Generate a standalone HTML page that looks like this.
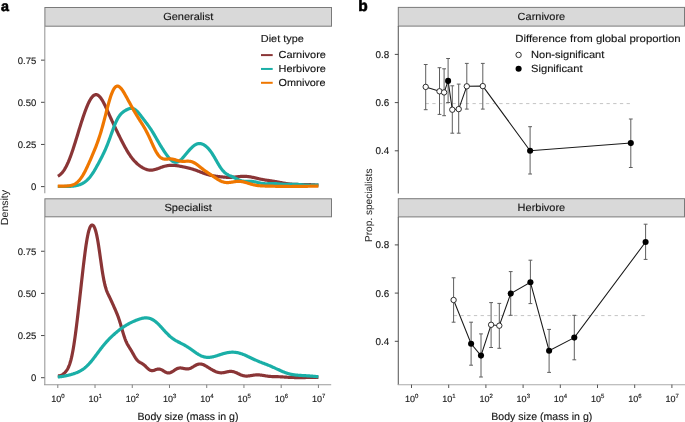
<!DOCTYPE html>
<html><head><meta charset="utf-8"><style>
html,body{margin:0;padding:0;background:#fff;width:685px;height:422px;overflow:hidden;font-family:"Liberation Sans",sans-serif;}
svg{display:block;will-change:transform;text-rendering:geometricPrecision} text{stroke:#1a1a1a;stroke-width:0.15px}
</style></head><body><svg width="685" height="422" viewBox="0 0 685 422"><rect width="685" height="422" fill="#fff"/>
<text x="0.9" y="10.9" font-size="14.3" font-weight="bold" font-family="Liberation Sans, sans-serif" fill="#000" style="stroke:#000;stroke-width:0.6px">a</text>
<text x="358.2" y="11" font-size="15.5" font-weight="bold" font-family="Liberation Sans, sans-serif" fill="#000" style="stroke:#000;stroke-width:0.6px">b</text>
<rect x="44.9" y="7.5" width="286.6" height="18.7" fill="#d9d9d9" stroke="#7a7a7a" stroke-width="1.0"/>
<text x="188.2" y="20.10" text-anchor="middle" font-size="10.4" font-family="Liberation Sans, sans-serif" fill="#151515" textLength="50" lengthAdjust="spacingAndGlyphs">Generalist</text>
<rect x="44.9" y="198.8" width="286.6" height="18.0" fill="#d9d9d9" stroke="#7a7a7a" stroke-width="1.0"/>
<text x="188.2" y="211.40" text-anchor="middle" font-size="10.4" font-family="Liberation Sans, sans-serif" fill="#151515" textLength="47.5" lengthAdjust="spacingAndGlyphs">Specialist</text>
<line x1="44.8" y1="26.2" x2="44.8" y2="193.3" stroke="#9a9a9a" stroke-width="1.1"/>
<line x1="44.8" y1="216.8" x2="44.8" y2="385" stroke="#9a9a9a" stroke-width="1.1"/>
<line x1="44" y1="384.7" x2="331.2" y2="384.7" stroke="#9a9a9a" stroke-width="1.1"/>
<line x1="41" y1="186.60" x2="44.5" y2="186.60" stroke="#2a2a2a" stroke-width="0.85"/>
<text x="36.3" y="190.00" text-anchor="end" font-size="9.5" font-family="Liberation Sans, sans-serif" fill="#222">0</text>
<line x1="41" y1="377.70" x2="44.5" y2="377.70" stroke="#2a2a2a" stroke-width="0.85"/>
<text x="36.3" y="381.10" text-anchor="end" font-size="9.5" font-family="Liberation Sans, sans-serif" fill="#222">0</text>
<line x1="41" y1="144.45" x2="44.5" y2="144.45" stroke="#2a2a2a" stroke-width="0.85"/>
<text x="36.3" y="147.85" text-anchor="end" font-size="9.5" font-family="Liberation Sans, sans-serif" fill="#222">0.25</text>
<line x1="41" y1="335.55" x2="44.5" y2="335.55" stroke="#2a2a2a" stroke-width="0.85"/>
<text x="36.3" y="338.95" text-anchor="end" font-size="9.5" font-family="Liberation Sans, sans-serif" fill="#222">0.25</text>
<line x1="41" y1="102.30" x2="44.5" y2="102.30" stroke="#2a2a2a" stroke-width="0.85"/>
<text x="36.3" y="105.70" text-anchor="end" font-size="9.5" font-family="Liberation Sans, sans-serif" fill="#222">0.50</text>
<line x1="41" y1="293.40" x2="44.5" y2="293.40" stroke="#2a2a2a" stroke-width="0.85"/>
<text x="36.3" y="296.80" text-anchor="end" font-size="9.5" font-family="Liberation Sans, sans-serif" fill="#222">0.50</text>
<line x1="41" y1="60.15" x2="44.5" y2="60.15" stroke="#2a2a2a" stroke-width="0.85"/>
<text x="36.3" y="63.55" text-anchor="end" font-size="9.5" font-family="Liberation Sans, sans-serif" fill="#222">0.75</text>
<line x1="41" y1="251.25" x2="44.5" y2="251.25" stroke="#2a2a2a" stroke-width="0.85"/>
<text x="36.3" y="254.65" text-anchor="end" font-size="9.5" font-family="Liberation Sans, sans-serif" fill="#222">0.75</text>
<line x1="57.80" y1="384.7" x2="57.80" y2="388" stroke="#808080" stroke-width="1"/>
<text x="58.00" y="402.3" text-anchor="middle" font-family="Liberation Sans, sans-serif" fill="#222"><tspan font-size="9">10</tspan><tspan font-size="6" dy="-4">0</tspan></text>
<line x1="95.03" y1="384.7" x2="95.03" y2="388" stroke="#808080" stroke-width="1"/>
<text x="95.23" y="402.3" text-anchor="middle" font-family="Liberation Sans, sans-serif" fill="#222"><tspan font-size="9">10</tspan><tspan font-size="6" dy="-4">1</tspan></text>
<line x1="132.26" y1="384.7" x2="132.26" y2="388" stroke="#808080" stroke-width="1"/>
<text x="132.46" y="402.3" text-anchor="middle" font-family="Liberation Sans, sans-serif" fill="#222"><tspan font-size="9">10</tspan><tspan font-size="6" dy="-4">2</tspan></text>
<line x1="169.49" y1="384.7" x2="169.49" y2="388" stroke="#808080" stroke-width="1"/>
<text x="169.69" y="402.3" text-anchor="middle" font-family="Liberation Sans, sans-serif" fill="#222"><tspan font-size="9">10</tspan><tspan font-size="6" dy="-4">3</tspan></text>
<line x1="206.72" y1="384.7" x2="206.72" y2="388" stroke="#808080" stroke-width="1"/>
<text x="206.92" y="402.3" text-anchor="middle" font-family="Liberation Sans, sans-serif" fill="#222"><tspan font-size="9">10</tspan><tspan font-size="6" dy="-4">4</tspan></text>
<line x1="243.95" y1="384.7" x2="243.95" y2="388" stroke="#808080" stroke-width="1"/>
<text x="244.15" y="402.3" text-anchor="middle" font-family="Liberation Sans, sans-serif" fill="#222"><tspan font-size="9">10</tspan><tspan font-size="6" dy="-4">5</tspan></text>
<line x1="281.18" y1="384.7" x2="281.18" y2="388" stroke="#808080" stroke-width="1"/>
<text x="281.38" y="402.3" text-anchor="middle" font-family="Liberation Sans, sans-serif" fill="#222"><tspan font-size="9">10</tspan><tspan font-size="6" dy="-4">6</tspan></text>
<line x1="318.41" y1="384.7" x2="318.41" y2="388" stroke="#808080" stroke-width="1"/>
<text x="318.61" y="402.3" text-anchor="middle" font-family="Liberation Sans, sans-serif" fill="#222"><tspan font-size="9">10</tspan><tspan font-size="6" dy="-4">7</tspan></text>
<text x="188" y="419.5" text-anchor="middle" font-size="10.5" font-family="Liberation Sans, sans-serif" fill="#151515" textLength="101" lengthAdjust="spacingAndGlyphs">Body size (mass in g)</text>
<text transform="translate(7.8,207.5) rotate(-90)" text-anchor="middle" font-size="10.3" font-family="Liberation Sans, sans-serif" fill="#2a2a2a" style="stroke-width:0.05px" textLength="35" lengthAdjust="spacingAndGlyphs">Density</text>
<path d="M57.80,176.20 L58.32,175.91 L58.84,175.59 L59.37,175.23 L59.89,174.83 L60.41,174.40 L60.93,173.92 L61.46,173.41 L61.98,172.84 L62.50,172.23 L63.02,171.57 L63.54,170.86 L64.07,170.10 L64.59,169.29 L65.11,168.42 L65.63,167.50 L66.16,166.53 L66.68,165.50 L67.20,164.42 L67.72,163.29 L68.25,162.11 L68.77,160.88 L69.29,159.60 L69.81,158.27 L70.33,156.90 L70.86,155.48 L71.38,154.03 L71.90,152.54 L72.42,151.01 L72.95,149.45 L73.47,147.86 L73.99,146.24 L74.51,144.61 L75.03,142.95 L75.56,141.27 L76.08,139.58 L76.60,137.88 L77.12,136.18 L77.65,134.47 L78.17,132.76 L78.69,131.05 L79.21,129.34 L79.74,127.64 L80.26,125.96 L80.78,124.29 L81.30,122.63 L81.82,121.00 L82.35,119.39 L82.87,117.80 L83.39,116.24 L83.91,114.71 L84.44,113.22 L84.96,111.76 L85.48,110.34 L86.00,108.96 L86.52,107.63 L87.05,106.35 L87.57,105.12 L88.09,103.94 L88.61,102.82 L89.14,101.76 L89.66,100.76 L90.18,99.83 L90.70,98.97 L91.22,98.18 L91.75,97.46 L92.27,96.83 L92.79,96.27 L93.31,95.79 L93.84,95.39 L94.36,95.07 L94.88,94.85 L95.40,94.70 L95.93,94.64 L96.45,94.67 L96.97,94.78 L97.49,94.98 L98.01,95.26 L98.54,95.62 L99.06,96.06 L99.58,96.57 L100.10,97.15 L100.63,97.81 L101.15,98.53 L101.67,99.31 L102.19,100.14 L102.71,101.03 L103.24,101.97 L103.76,102.95 L104.28,103.96 L104.80,105.02 L105.33,106.10 L105.85,107.20 L106.37,108.32 L106.89,109.46 L107.42,110.62 L107.94,111.78 L108.46,112.95 L108.98,114.11 L109.50,115.28 L110.03,116.45 L110.55,117.61 L111.07,118.77 L111.59,119.92 L112.12,121.06 L112.64,122.20 L113.16,123.32 L113.68,124.44 L114.20,125.55 L114.73,126.65 L115.25,127.74 L115.77,128.83 L116.29,129.91 L116.82,130.99 L117.34,132.06 L117.86,133.12 L118.38,134.18 L118.90,135.24 L119.43,136.29 L119.95,137.34 L120.47,138.38 L120.99,139.41 L121.52,140.44 L122.04,141.47 L122.56,142.48 L123.08,143.49 L123.61,144.49 L124.13,145.47 L124.65,146.45 L125.17,147.40 L125.69,148.35 L126.22,149.28 L126.74,150.18 L127.26,151.07 L127.78,151.94 L128.31,152.79 L128.83,153.62 L129.35,154.42 L129.87,155.20 L130.39,155.96 L130.92,156.69 L131.44,157.40 L131.96,158.08 L132.48,158.74 L133.01,159.38 L133.53,159.99 L134.05,160.59 L134.57,161.16 L135.10,161.70 L135.62,162.23 L136.14,162.74 L136.66,163.23 L137.18,163.71 L137.71,164.16 L138.23,164.60 L138.75,165.03 L139.27,165.43 L139.80,165.83 L140.32,166.20 L140.84,166.57 L141.36,166.91 L141.88,167.24 L142.41,167.56 L142.93,167.86 L143.45,168.14 L143.97,168.41 L144.50,168.66 L145.02,168.89 L145.54,169.10 L146.06,169.30 L146.58,169.47 L147.11,169.63 L147.63,169.76 L148.15,169.88 L148.67,169.97 L149.20,170.04 L149.72,170.09 L150.24,170.12 L150.76,170.13 L151.29,170.12 L151.81,170.09 L152.33,170.04 L152.85,169.97 L153.37,169.88 L153.90,169.78 L154.42,169.66 L154.94,169.53 L155.46,169.38 L155.99,169.23 L156.51,169.06 L157.03,168.88 L157.55,168.70 L158.07,168.52 L158.60,168.32 L159.12,168.13 L159.64,167.93 L160.16,167.74 L160.69,167.55 L161.21,167.36 L161.73,167.17 L162.25,166.99 L162.78,166.81 L163.30,166.65 L163.82,166.49 L164.34,166.33 L164.86,166.19 L165.39,166.06 L165.91,165.94 L166.43,165.83 L166.95,165.72 L167.48,165.63 L168.00,165.56 L168.52,165.49 L169.04,165.43 L169.56,165.38 L170.09,165.35 L170.61,165.32 L171.13,165.31 L171.65,165.30 L172.18,165.31 L172.70,165.32 L173.22,165.35 L173.74,165.38 L174.26,165.42 L174.79,165.46 L175.31,165.52 L175.83,165.58 L176.35,165.64 L176.88,165.71 L177.40,165.79 L177.92,165.87 L178.44,165.95 L178.97,166.04 L179.49,166.13 L180.01,166.23 L180.53,166.32 L181.05,166.42 L181.58,166.52 L182.10,166.63 L182.62,166.73 L183.14,166.84 L183.67,166.95 L184.19,167.05 L184.71,167.17 L185.23,167.28 L185.75,167.39 L186.28,167.51 L186.80,167.63 L187.32,167.75 L187.84,167.87 L188.37,168.00 L188.89,168.12 L189.41,168.26 L189.93,168.39 L190.46,168.53 L190.98,168.68 L191.50,168.83 L192.02,168.98 L192.54,169.14 L193.07,169.30 L193.59,169.46 L194.11,169.64 L194.63,169.81 L195.16,169.99 L195.68,170.18 L196.20,170.37 L196.72,170.56 L197.24,170.76 L197.77,170.96 L198.29,171.16 L198.81,171.36 L199.33,171.57 L199.86,171.77 L200.38,171.98 L200.90,172.18 L201.42,172.39 L201.95,172.59 L202.47,172.79 L202.99,172.99 L203.51,173.18 L204.03,173.37 L204.56,173.55 L205.08,173.73 L205.60,173.91 L206.12,174.08 L206.65,174.24 L207.17,174.40 L207.69,174.55 L208.21,174.69 L208.73,174.83 L209.26,174.96 L209.78,175.08 L210.30,175.20 L210.82,175.32 L211.35,175.43 L211.87,175.53 L212.39,175.63 L212.91,175.72 L213.43,175.81 L213.96,175.90 L214.48,175.98 L215.00,176.06 L215.52,176.13 L216.05,176.21 L216.57,176.28 L217.09,176.35 L217.61,176.42 L218.14,176.48 L218.66,176.55 L219.18,176.61 L219.70,176.67 L220.22,176.74 L220.75,176.79 L221.27,176.85 L221.79,176.91 L222.31,176.96 L222.84,177.01 L223.36,177.06 L223.88,177.11 L224.40,177.15 L224.92,177.19 L225.45,177.23 L225.97,177.26 L226.49,177.29 L227.01,177.31 L227.54,177.33 L228.06,177.34 L228.58,177.35 L229.10,177.35 L229.63,177.35 L230.15,177.34 L230.67,177.33 L231.19,177.31 L231.71,177.28 L232.24,177.25 L232.76,177.22 L233.28,177.18 L233.80,177.13 L234.33,177.09 L234.85,177.04 L235.37,176.98 L235.89,176.93 L236.41,176.87 L236.94,176.82 L237.46,176.76 L237.98,176.70 L238.50,176.65 L239.03,176.60 L239.55,176.55 L240.07,176.50 L240.59,176.46 L241.11,176.42 L241.64,176.39 L242.16,176.36 L242.68,176.34 L243.20,176.33 L243.73,176.32 L244.25,176.32 L244.77,176.33 L245.29,176.35 L245.82,176.37 L246.34,176.40 L246.86,176.44 L247.38,176.49 L247.90,176.54 L248.43,176.60 L248.95,176.67 L249.47,176.75 L249.99,176.83 L250.52,176.92 L251.04,177.02 L251.56,177.12 L252.08,177.22 L252.60,177.33 L253.13,177.44 L253.65,177.55 L254.17,177.67 L254.69,177.79 L255.22,177.91 L255.74,178.03 L256.26,178.16 L256.78,178.28 L257.31,178.40 L257.83,178.52 L258.35,178.64 L258.87,178.75 L259.39,178.87 L259.92,178.98 L260.44,179.09 L260.96,179.20 L261.48,179.30 L262.01,179.41 L262.53,179.51 L263.05,179.60 L263.57,179.70 L264.09,179.79 L264.62,179.88 L265.14,179.96 L265.66,180.05 L266.18,180.13 L266.71,180.21 L267.23,180.29 L267.75,180.37 L268.27,180.45 L268.79,180.52 L269.32,180.60 L269.84,180.68 L270.36,180.75 L270.88,180.83 L271.41,180.91 L271.93,180.99 L272.45,181.07 L272.97,181.16 L273.50,181.24 L274.02,181.33 L274.54,181.41 L275.06,181.50 L275.58,181.59 L276.11,181.68 L276.63,181.78 L277.15,181.87 L277.67,181.97 L278.20,182.07 L278.72,182.17 L279.24,182.27 L279.76,182.37 L280.28,182.47 L280.81,182.57 L281.33,182.67 L281.85,182.77 L282.37,182.87 L282.90,182.96 L283.42,183.06 L283.94,183.16 L284.46,183.25 L284.99,183.34 L285.51,183.43 L286.03,183.51 L286.55,183.59 L287.07,183.67 L287.60,183.75 L288.12,183.82 L288.64,183.89 L289.16,183.95 L289.69,184.01 L290.21,184.07 L290.73,184.12 L291.25,184.17 L291.77,184.21 L292.30,184.25 L292.82,184.29 L293.34,184.32 L293.86,184.35 L294.39,184.38 L294.91,184.40 L295.43,184.42 L295.95,184.44 L296.47,184.45 L297.00,184.46 L297.52,184.47 L298.04,184.48 L298.56,184.49 L299.09,184.49 L299.61,184.50 L300.13,184.50 L300.65,184.50 L301.18,184.51 L301.70,184.51 L302.22,184.51 L302.74,184.51 L303.26,184.52 L303.79,184.52 L304.31,184.53 L304.83,184.53 L305.35,184.54 L305.88,184.55 L306.40,184.56 L306.92,184.57 L307.44,184.59 L307.96,184.60 L308.49,184.62 L309.01,184.64 L309.53,184.66 L310.05,184.68 L310.58,184.70 L311.10,184.73 L311.62,184.76 L312.14,184.79 L312.67,184.82 L313.19,184.85 L313.71,184.88 L314.23,184.92 L314.75,184.95 L315.28,184.99 L315.80,185.03 L316.32,185.06 L316.84,185.10 L317.37,185.14 L317.89,185.18 L318.41,185.22" fill="none" stroke="#8a3536" stroke-width="3.2" stroke-linejoin="round" stroke-linecap="butt"/>
<path d="M57.80,186.49 L58.32,186.49 L58.84,186.49 L59.37,186.49 L59.89,186.49 L60.41,186.49 L60.93,186.49 L61.46,186.49 L61.98,186.49 L62.50,186.49 L63.02,186.48 L63.54,186.48 L64.07,186.48 L64.59,186.47 L65.11,186.47 L65.63,186.46 L66.16,186.45 L66.68,186.44 L67.20,186.43 L67.72,186.42 L68.25,186.41 L68.77,186.39 L69.29,186.37 L69.81,186.35 L70.33,186.32 L70.86,186.29 L71.38,186.25 L71.90,186.21 L72.42,186.17 L72.95,186.12 L73.47,186.06 L73.99,185.99 L74.51,185.92 L75.03,185.84 L75.56,185.75 L76.08,185.65 L76.60,185.54 L77.12,185.43 L77.65,185.30 L78.17,185.15 L78.69,185.00 L79.21,184.83 L79.74,184.65 L80.26,184.45 L80.78,184.24 L81.30,184.01 L81.82,183.77 L82.35,183.51 L82.87,183.23 L83.39,182.92 L83.91,182.60 L84.44,182.26 L84.96,181.89 L85.48,181.50 L86.00,181.09 L86.52,180.65 L87.05,180.18 L87.57,179.68 L88.09,179.16 L88.61,178.61 L89.14,178.03 L89.66,177.42 L90.18,176.78 L90.70,176.10 L91.22,175.40 L91.75,174.67 L92.27,173.92 L92.79,173.13 L93.31,172.32 L93.84,171.49 L94.36,170.63 L94.88,169.75 L95.40,168.86 L95.93,167.94 L96.45,167.02 L96.97,166.08 L97.49,165.13 L98.01,164.17 L98.54,163.20 L99.06,162.23 L99.58,161.25 L100.10,160.25 L100.63,159.26 L101.15,158.25 L101.67,157.23 L102.19,156.20 L102.71,155.15 L103.24,154.08 L103.76,153.00 L104.28,151.89 L104.80,150.75 L105.33,149.58 L105.85,148.39 L106.37,147.16 L106.89,145.90 L107.42,144.61 L107.94,143.28 L108.46,141.92 L108.98,140.54 L109.50,139.13 L110.03,137.70 L110.55,136.25 L111.07,134.80 L111.59,133.34 L112.12,131.89 L112.64,130.45 L113.16,129.03 L113.68,127.64 L114.20,126.28 L114.73,124.97 L115.25,123.70 L115.77,122.49 L116.29,121.34 L116.82,120.25 L117.34,119.23 L117.86,118.28 L118.38,117.39 L118.90,116.57 L119.43,115.81 L119.95,115.12 L120.47,114.48 L120.99,113.90 L121.52,113.36 L122.04,112.87 L122.56,112.42 L123.08,112.00 L123.61,111.62 L124.13,111.25 L124.65,110.91 L125.17,110.59 L125.69,110.28 L126.22,110.00 L126.74,109.72 L127.26,109.47 L127.78,109.23 L128.31,109.01 L128.83,108.82 L129.35,108.65 L129.87,108.51 L130.39,108.41 L130.92,108.35 L131.44,108.33 L131.96,108.35 L132.48,108.43 L133.01,108.55 L133.53,108.73 L134.05,108.95 L134.57,109.24 L135.10,109.57 L135.62,109.95 L136.14,110.38 L136.66,110.86 L137.18,111.37 L137.71,111.93 L138.23,112.51 L138.75,113.13 L139.27,113.76 L139.80,114.42 L140.32,115.08 L140.84,115.76 L141.36,116.45 L141.88,117.14 L142.41,117.82 L142.93,118.51 L143.45,119.20 L143.97,119.88 L144.50,120.57 L145.02,121.25 L145.54,121.93 L146.06,122.61 L146.58,123.30 L147.11,123.99 L147.63,124.69 L148.15,125.40 L148.67,126.12 L149.20,126.85 L149.72,127.60 L150.24,128.36 L150.76,129.15 L151.29,129.95 L151.81,130.76 L152.33,131.60 L152.85,132.45 L153.37,133.31 L153.90,134.19 L154.42,135.08 L154.94,135.98 L155.46,136.88 L155.99,137.79 L156.51,138.70 L157.03,139.61 L157.55,140.51 L158.07,141.41 L158.60,142.31 L159.12,143.20 L159.64,144.08 L160.16,144.95 L160.69,145.82 L161.21,146.67 L161.73,147.51 L162.25,148.34 L162.78,149.16 L163.30,149.97 L163.82,150.76 L164.34,151.55 L164.86,152.33 L165.39,153.09 L165.91,153.84 L166.43,154.57 L166.95,155.29 L167.48,155.99 L168.00,156.66 L168.52,157.32 L169.04,157.95 L169.56,158.54 L170.09,159.11 L170.61,159.64 L171.13,160.13 L171.65,160.57 L172.18,160.97 L172.70,161.32 L173.22,161.62 L173.74,161.87 L174.26,162.06 L174.79,162.19 L175.31,162.27 L175.83,162.28 L176.35,162.24 L176.88,162.15 L177.40,161.99 L177.92,161.79 L178.44,161.53 L178.97,161.22 L179.49,160.87 L180.01,160.47 L180.53,160.03 L181.05,159.56 L181.58,159.06 L182.10,158.53 L182.62,157.97 L183.14,157.40 L183.67,156.80 L184.19,156.19 L184.71,155.58 L185.23,154.95 L185.75,154.32 L186.28,153.69 L186.80,153.06 L187.32,152.43 L187.84,151.81 L188.37,151.20 L188.89,150.59 L189.41,150.00 L189.93,149.42 L190.46,148.86 L190.98,148.32 L191.50,147.80 L192.02,147.30 L192.54,146.82 L193.07,146.37 L193.59,145.95 L194.11,145.56 L194.63,145.19 L195.16,144.87 L195.68,144.57 L196.20,144.31 L196.72,144.09 L197.24,143.91 L197.77,143.76 L198.29,143.65 L198.81,143.59 L199.33,143.56 L199.86,143.56 L200.38,143.61 L200.90,143.69 L201.42,143.81 L201.95,143.97 L202.47,144.16 L202.99,144.39 L203.51,144.65 L204.03,144.94 L204.56,145.26 L205.08,145.62 L205.60,146.01 L206.12,146.43 L206.65,146.88 L207.17,147.37 L207.69,147.89 L208.21,148.43 L208.73,149.02 L209.26,149.63 L209.78,150.28 L210.30,150.96 L210.82,151.67 L211.35,152.41 L211.87,153.18 L212.39,153.98 L212.91,154.81 L213.43,155.66 L213.96,156.53 L214.48,157.42 L215.00,158.33 L215.52,159.24 L216.05,160.16 L216.57,161.08 L217.09,161.99 L217.61,162.90 L218.14,163.80 L218.66,164.68 L219.18,165.53 L219.70,166.36 L220.22,167.16 L220.75,167.93 L221.27,168.66 L221.79,169.35 L222.31,170.01 L222.84,170.62 L223.36,171.20 L223.88,171.73 L224.40,172.23 L224.92,172.68 L225.45,173.11 L225.97,173.50 L226.49,173.86 L227.01,174.19 L227.54,174.50 L228.06,174.79 L228.58,175.07 L229.10,175.33 L229.63,175.58 L230.15,175.83 L230.67,176.07 L231.19,176.31 L231.71,176.55 L232.24,176.79 L232.76,177.03 L233.28,177.28 L233.80,177.53 L234.33,177.78 L234.85,178.04 L235.37,178.29 L235.89,178.55 L236.41,178.81 L236.94,179.06 L237.46,179.30 L237.98,179.54 L238.50,179.77 L239.03,179.99 L239.55,180.19 L240.07,180.38 L240.59,180.55 L241.11,180.71 L241.64,180.85 L242.16,180.97 L242.68,181.07 L243.20,181.15 L243.73,181.22 L244.25,181.27 L244.77,181.31 L245.29,181.33 L245.82,181.34 L246.34,181.35 L246.86,181.34 L247.38,181.34 L247.90,181.33 L248.43,181.32 L248.95,181.31 L249.47,181.31 L249.99,181.31 L250.52,181.33 L251.04,181.35 L251.56,181.38 L252.08,181.42 L252.60,181.48 L253.13,181.54 L253.65,181.62 L254.17,181.71 L254.69,181.81 L255.22,181.92 L255.74,182.03 L256.26,182.16 L256.78,182.28 L257.31,182.41 L257.83,182.55 L258.35,182.68 L258.87,182.81 L259.39,182.93 L259.92,183.05 L260.44,183.16 L260.96,183.27 L261.48,183.37 L262.01,183.45 L262.53,183.53 L263.05,183.59 L263.57,183.64 L264.09,183.68 L264.62,183.71 L265.14,183.73 L265.66,183.74 L266.18,183.74 L266.71,183.74 L267.23,183.73 L267.75,183.71 L268.27,183.69 L268.79,183.66 L269.32,183.64 L269.84,183.61 L270.36,183.59 L270.88,183.57 L271.41,183.55 L271.93,183.53 L272.45,183.53 L272.97,183.52 L273.50,183.53 L274.02,183.54 L274.54,183.55 L275.06,183.57 L275.58,183.60 L276.11,183.64 L276.63,183.67 L277.15,183.72 L277.67,183.77 L278.20,183.82 L278.72,183.87 L279.24,183.92 L279.76,183.97 L280.28,184.03 L280.81,184.08 L281.33,184.12 L281.85,184.17 L282.37,184.21 L282.90,184.25 L283.42,184.28 L283.94,184.30 L284.46,184.32 L284.99,184.34 L285.51,184.35 L286.03,184.36 L286.55,184.36 L287.07,184.36 L287.60,184.35 L288.12,184.34 L288.64,184.33 L289.16,184.31 L289.69,184.30 L290.21,184.28 L290.73,184.27 L291.25,184.26 L291.77,184.25 L292.30,184.24 L292.82,184.24 L293.34,184.24 L293.86,184.24 L294.39,184.25 L294.91,184.26 L295.43,184.28 L295.95,184.30 L296.47,184.32 L297.00,184.36 L297.52,184.39 L298.04,184.43 L298.56,184.47 L299.09,184.52 L299.61,184.56 L300.13,184.61 L300.65,184.66 L301.18,184.71 L301.70,184.76 L302.22,184.81 L302.74,184.86 L303.26,184.91 L303.79,184.96 L304.31,185.00 L304.83,185.04 L305.35,185.08 L305.88,185.11 L306.40,185.14 L306.92,185.16 L307.44,185.19 L307.96,185.20 L308.49,185.22 L309.01,185.22 L309.53,185.23 L310.05,185.23 L310.58,185.23 L311.10,185.22 L311.62,185.21 L312.14,185.20 L312.67,185.18 L313.19,185.17 L313.71,185.15 L314.23,185.12 L314.75,185.10 L315.28,185.08 L315.80,185.05 L316.32,185.03 L316.84,185.00 L317.37,184.98 L317.89,184.95 L318.41,184.93" fill="none" stroke="#1aafa7" stroke-width="3.2" stroke-linejoin="round" stroke-linecap="butt"/>
<path d="M57.80,186.19 L58.32,186.19 L58.84,186.18 L59.37,186.18 L59.89,186.17 L60.41,186.16 L60.93,186.16 L61.46,186.15 L61.98,186.15 L62.50,186.14 L63.02,186.13 L63.54,186.12 L64.07,186.11 L64.59,186.10 L65.11,186.08 L65.63,186.06 L66.16,186.03 L66.68,186.00 L67.20,185.97 L67.72,185.92 L68.25,185.87 L68.77,185.81 L69.29,185.74 L69.81,185.66 L70.33,185.56 L70.86,185.46 L71.38,185.33 L71.90,185.19 L72.42,185.02 L72.95,184.84 L73.47,184.63 L73.99,184.40 L74.51,184.14 L75.03,183.86 L75.56,183.54 L76.08,183.19 L76.60,182.81 L77.12,182.39 L77.65,181.94 L78.17,181.45 L78.69,180.92 L79.21,180.35 L79.74,179.73 L80.26,179.08 L80.78,178.39 L81.30,177.65 L81.82,176.88 L82.35,176.06 L82.87,175.21 L83.39,174.32 L83.91,173.39 L84.44,172.43 L84.96,171.44 L85.48,170.42 L86.00,169.37 L86.52,168.29 L87.05,167.20 L87.57,166.08 L88.09,164.94 L88.61,163.80 L89.14,162.63 L89.66,161.46 L90.18,160.27 L90.70,159.08 L91.22,157.88 L91.75,156.67 L92.27,155.45 L92.79,154.22 L93.31,152.98 L93.84,151.72 L94.36,150.46 L94.88,149.17 L95.40,147.87 L95.93,146.54 L96.45,145.18 L96.97,143.79 L97.49,142.37 L98.01,140.91 L98.54,139.40 L99.06,137.86 L99.58,136.27 L100.10,134.63 L100.63,132.94 L101.15,131.20 L101.67,129.41 L102.19,127.58 L102.71,125.70 L103.24,123.78 L103.76,121.82 L104.28,119.84 L104.80,117.83 L105.33,115.81 L105.85,113.78 L106.37,111.75 L106.89,109.73 L107.42,107.74 L107.94,105.78 L108.46,103.86 L108.98,102.00 L109.50,100.20 L110.03,98.48 L110.55,96.84 L111.07,95.30 L111.59,93.86 L112.12,92.54 L112.64,91.33 L113.16,90.24 L113.68,89.27 L114.20,88.44 L114.73,87.73 L115.25,87.16 L115.77,86.71 L116.29,86.39 L116.82,86.19 L117.34,86.11 L117.86,86.14 L118.38,86.29 L118.90,86.53 L119.43,86.87 L119.95,87.29 L120.47,87.80 L120.99,88.37 L121.52,89.02 L122.04,89.71 L122.56,90.46 L123.08,91.25 L123.61,92.08 L124.13,92.94 L124.65,93.83 L125.17,94.74 L125.69,95.67 L126.22,96.60 L126.74,97.55 L127.26,98.51 L127.78,99.47 L128.31,100.43 L128.83,101.40 L129.35,102.36 L129.87,103.33 L130.39,104.29 L130.92,105.24 L131.44,106.19 L131.96,107.14 L132.48,108.07 L133.01,109.01 L133.53,109.93 L134.05,110.84 L134.57,111.75 L135.10,112.64 L135.62,113.53 L136.14,114.40 L136.66,115.27 L137.18,116.12 L137.71,116.97 L138.23,117.81 L138.75,118.64 L139.27,119.46 L139.80,120.28 L140.32,121.10 L140.84,121.92 L141.36,122.75 L141.88,123.57 L142.41,124.41 L142.93,125.26 L143.45,126.12 L143.97,127.00 L144.50,127.90 L145.02,128.82 L145.54,129.76 L146.06,130.72 L146.58,131.71 L147.11,132.73 L147.63,133.77 L148.15,134.84 L148.67,135.93 L149.20,137.04 L149.72,138.17 L150.24,139.31 L150.76,140.46 L151.29,141.62 L151.81,142.78 L152.33,143.94 L152.85,145.09 L153.37,146.22 L153.90,147.33 L154.42,148.41 L154.94,149.46 L155.46,150.47 L155.99,151.44 L156.51,152.36 L157.03,153.22 L157.55,154.03 L158.07,154.78 L158.60,155.47 L159.12,156.09 L159.64,156.66 L160.16,157.15 L160.69,157.58 L161.21,157.96 L161.73,158.27 L162.25,158.53 L162.78,158.73 L163.30,158.89 L163.82,159.00 L164.34,159.08 L164.86,159.12 L165.39,159.14 L165.91,159.14 L166.43,159.11 L166.95,159.08 L167.48,159.04 L168.00,159.01 L168.52,158.97 L169.04,158.94 L169.56,158.93 L170.09,158.92 L170.61,158.94 L171.13,158.96 L171.65,159.01 L172.18,159.08 L172.70,159.16 L173.22,159.26 L173.74,159.38 L174.26,159.50 L174.79,159.65 L175.31,159.79 L175.83,159.95 L176.35,160.11 L176.88,160.26 L177.40,160.42 L177.92,160.57 L178.44,160.71 L178.97,160.84 L179.49,160.96 L180.01,161.06 L180.53,161.15 L181.05,161.22 L181.58,161.28 L182.10,161.32 L182.62,161.35 L183.14,161.36 L183.67,161.36 L184.19,161.34 L184.71,161.32 L185.23,161.30 L185.75,161.27 L186.28,161.24 L186.80,161.22 L187.32,161.20 L187.84,161.20 L188.37,161.20 L188.89,161.23 L189.41,161.27 L189.93,161.33 L190.46,161.41 L190.98,161.52 L191.50,161.66 L192.02,161.82 L192.54,162.01 L193.07,162.22 L193.59,162.46 L194.11,162.73 L194.63,163.02 L195.16,163.33 L195.68,163.66 L196.20,164.01 L196.72,164.38 L197.24,164.77 L197.77,165.16 L198.29,165.57 L198.81,165.98 L199.33,166.39 L199.86,166.81 L200.38,167.23 L200.90,167.65 L201.42,168.06 L201.95,168.48 L202.47,168.88 L202.99,169.28 L203.51,169.68 L204.03,170.07 L204.56,170.45 L205.08,170.83 L205.60,171.20 L206.12,171.56 L206.65,171.92 L207.17,172.28 L207.69,172.63 L208.21,172.98 L208.73,173.33 L209.26,173.68 L209.78,174.03 L210.30,174.37 L210.82,174.72 L211.35,175.08 L211.87,175.43 L212.39,175.78 L212.91,176.14 L213.43,176.50 L213.96,176.85 L214.48,177.21 L215.00,177.56 L215.52,177.92 L216.05,178.27 L216.57,178.61 L217.09,178.95 L217.61,179.28 L218.14,179.60 L218.66,179.91 L219.18,180.21 L219.70,180.49 L220.22,180.76 L220.75,181.02 L221.27,181.25 L221.79,181.47 L222.31,181.67 L222.84,181.85 L223.36,182.02 L223.88,182.16 L224.40,182.28 L224.92,182.38 L225.45,182.46 L225.97,182.52 L226.49,182.56 L227.01,182.58 L227.54,182.59 L228.06,182.58 L228.58,182.55 L229.10,182.51 L229.63,182.46 L230.15,182.40 L230.67,182.33 L231.19,182.25 L231.71,182.17 L232.24,182.08 L232.76,181.99 L233.28,181.90 L233.80,181.81 L234.33,181.73 L234.85,181.65 L235.37,181.58 L235.89,181.51 L236.41,181.46 L236.94,181.41 L237.46,181.37 L237.98,181.35 L238.50,181.34 L239.03,181.34 L239.55,181.36 L240.07,181.39 L240.59,181.43 L241.11,181.49 L241.64,181.56 L242.16,181.64 L242.68,181.74 L243.20,181.85 L243.73,181.96 L244.25,182.09 L244.77,182.23 L245.29,182.37 L245.82,182.52 L246.34,182.67 L246.86,182.83 L247.38,182.99 L247.90,183.16 L248.43,183.32 L248.95,183.49 L249.47,183.65 L249.99,183.81 L250.52,183.97 L251.04,184.12 L251.56,184.27 L252.08,184.41 L252.60,184.55 L253.13,184.68 L253.65,184.81 L254.17,184.92 L254.69,185.03 L255.22,185.14 L255.74,185.23 L256.26,185.32 L256.78,185.41 L257.31,185.48 L257.83,185.55 L258.35,185.61 L258.87,185.67 L259.39,185.72 L259.92,185.77 L260.44,185.81 L260.96,185.84 L261.48,185.88 L262.01,185.91 L262.53,185.93 L263.05,185.96 L263.57,185.98 L264.09,185.99 L264.62,186.01 L265.14,186.03 L265.66,186.04 L266.18,186.05 L266.71,186.07 L267.23,186.08 L267.75,186.09 L268.27,186.10 L268.79,186.11 L269.32,186.13 L269.84,186.14 L270.36,186.15 L270.88,186.16 L271.41,186.17 L271.93,186.19 L272.45,186.20 L272.97,186.21 L273.50,186.22 L274.02,186.24 L274.54,186.25 L275.06,186.26 L275.58,186.28 L276.11,186.29 L276.63,186.30 L277.15,186.31 L277.67,186.33 L278.20,186.34 L278.72,186.35 L279.24,186.36 L279.76,186.37 L280.28,186.38 L280.81,186.39 L281.33,186.40 L281.85,186.41 L282.37,186.42 L282.90,186.42 L283.42,186.43 L283.94,186.44 L284.46,186.44 L284.99,186.45 L285.51,186.45 L286.03,186.46 L286.55,186.46 L287.07,186.47 L287.60,186.47 L288.12,186.47 L288.64,186.47 L289.16,186.47 L289.69,186.48 L290.21,186.48 L290.73,186.48 L291.25,186.48 L291.77,186.48 L292.30,186.47 L292.82,186.47 L293.34,186.47 L293.86,186.47 L294.39,186.47 L294.91,186.46 L295.43,186.46 L295.95,186.46 L296.47,186.45 L297.00,186.45 L297.52,186.44 L298.04,186.44 L298.56,186.43 L299.09,186.43 L299.61,186.42 L300.13,186.41 L300.65,186.41 L301.18,186.40 L301.70,186.39 L302.22,186.38 L302.74,186.37 L303.26,186.36 L303.79,186.35 L304.31,186.34 L304.83,186.33 L305.35,186.32 L305.88,186.31 L306.40,186.30 L306.92,186.29 L307.44,186.28 L307.96,186.26 L308.49,186.25 L309.01,186.24 L309.53,186.23 L310.05,186.22 L310.58,186.21 L311.10,186.20 L311.62,186.19 L312.14,186.18 L312.67,186.17 L313.19,186.16 L313.71,186.15 L314.23,186.14 L314.75,186.13 L315.28,186.13 L315.80,186.12 L316.32,186.11 L316.84,186.11 L317.37,186.10 L317.89,186.10 L318.41,186.10" fill="none" stroke="#ef7700" stroke-width="3.2" stroke-linejoin="round" stroke-linecap="butt"/>
<path d="M57.80,375.79 L58.32,375.83 L58.84,375.82 L59.37,375.77 L59.89,375.67 L60.41,375.52 L60.93,375.34 L61.46,375.10 L61.98,374.83 L62.50,374.51 L63.02,374.16 L63.54,373.77 L64.07,373.33 L64.59,372.85 L65.11,372.33 L65.63,371.75 L66.16,371.10 L66.68,370.39 L67.20,369.59 L67.72,368.69 L68.25,367.68 L68.77,366.53 L69.29,365.23 L69.81,363.76 L70.33,362.10 L70.86,360.24 L71.38,358.16 L71.90,355.84 L72.42,353.29 L72.95,350.51 L73.47,347.49 L73.99,344.24 L74.51,340.77 L75.03,337.11 L75.56,333.26 L76.08,329.24 L76.60,325.09 L77.12,320.82 L77.65,316.44 L78.17,311.98 L78.69,307.46 L79.21,302.88 L79.74,298.26 L80.26,293.62 L80.78,288.96 L81.30,284.30 L81.82,279.64 L82.35,275.02 L82.87,270.44 L83.39,265.94 L83.91,261.54 L84.44,257.27 L84.96,253.16 L85.48,249.26 L86.00,245.58 L86.52,242.16 L87.05,239.03 L87.57,236.21 L88.09,233.70 L88.61,231.53 L89.14,229.68 L89.66,228.16 L90.18,226.95 L90.70,226.04 L91.22,225.42 L91.75,225.08 L92.27,225.00 L92.79,225.17 L93.31,225.60 L93.84,226.29 L94.36,227.25 L94.88,228.48 L95.40,230.00 L95.93,231.81 L96.45,233.92 L96.97,236.33 L97.49,239.03 L98.01,242.00 L98.54,245.22 L99.06,248.64 L99.58,252.23 L100.10,255.91 L100.63,259.63 L101.15,263.34 L101.67,266.97 L102.19,270.46 L102.71,273.76 L103.24,276.84 L103.76,279.66 L104.28,282.22 L104.80,284.51 L105.33,286.55 L105.85,288.34 L106.37,289.93 L106.89,291.34 L107.42,292.62 L107.94,293.79 L108.46,294.90 L108.98,295.98 L109.50,297.04 L110.03,298.12 L110.55,299.21 L111.07,300.33 L111.59,301.46 L112.12,302.62 L112.64,303.78 L113.16,304.96 L113.68,306.13 L114.20,307.30 L114.73,308.47 L115.25,309.65 L115.77,310.84 L116.29,312.06 L116.82,313.31 L117.34,314.61 L117.86,315.97 L118.38,317.41 L118.90,318.92 L119.43,320.51 L119.95,322.18 L120.47,323.91 L120.99,325.69 L121.52,327.50 L122.04,329.33 L122.56,331.14 L123.08,332.91 L123.61,334.62 L124.13,336.26 L124.65,337.80 L125.17,339.24 L125.69,340.57 L126.22,341.79 L126.74,342.91 L127.26,343.95 L127.78,344.91 L128.31,345.81 L128.83,346.67 L129.35,347.51 L129.87,348.34 L130.39,349.17 L130.92,350.03 L131.44,350.90 L131.96,351.79 L132.48,352.71 L133.01,353.63 L133.53,354.56 L134.05,355.48 L134.57,356.37 L135.10,357.23 L135.62,358.05 L136.14,358.81 L136.66,359.50 L137.18,360.13 L137.71,360.68 L138.23,361.17 L138.75,361.60 L139.27,361.98 L139.80,362.31 L140.32,362.61 L140.84,362.90 L141.36,363.18 L141.88,363.48 L142.41,363.78 L142.93,364.12 L143.45,364.49 L143.97,364.89 L144.50,365.32 L145.02,365.79 L145.54,366.28 L146.06,366.79 L146.58,367.30 L147.11,367.82 L147.63,368.31 L148.15,368.79 L148.67,369.22 L149.20,369.61 L149.72,369.94 L150.24,370.22 L150.76,370.42 L151.29,370.56 L151.81,370.63 L152.33,370.65 L152.85,370.60 L153.37,370.50 L153.90,370.36 L154.42,370.19 L154.94,370.00 L155.46,369.81 L155.99,369.61 L156.51,369.43 L157.03,369.28 L157.55,369.15 L158.07,369.07 L158.60,369.04 L159.12,369.05 L159.64,369.12 L160.16,369.24 L160.69,369.41 L161.21,369.62 L161.73,369.87 L162.25,370.16 L162.78,370.47 L163.30,370.79 L163.82,371.13 L164.34,371.46 L164.86,371.77 L165.39,372.06 L165.91,372.33 L166.43,372.55 L166.95,372.73 L167.48,372.86 L168.00,372.94 L168.52,372.97 L169.04,372.94 L169.56,372.85 L170.09,372.71 L170.61,372.53 L171.13,372.30 L171.65,372.03 L172.18,371.73 L172.70,371.40 L173.22,371.06 L173.74,370.70 L174.26,370.34 L174.79,369.99 L175.31,369.65 L175.83,369.33 L176.35,369.04 L176.88,368.77 L177.40,368.54 L177.92,368.35 L178.44,368.19 L178.97,368.07 L179.49,368.00 L180.01,367.96 L180.53,367.96 L181.05,367.98 L181.58,368.04 L182.10,368.12 L182.62,368.22 L183.14,368.33 L183.67,368.45 L184.19,368.56 L184.71,368.67 L185.23,368.77 L185.75,368.85 L186.28,368.91 L186.80,368.94 L187.32,368.94 L187.84,368.90 L188.37,368.83 L188.89,368.73 L189.41,368.59 L189.93,368.41 L190.46,368.20 L190.98,367.97 L191.50,367.71 L192.02,367.42 L192.54,367.12 L193.07,366.81 L193.59,366.49 L194.11,366.17 L194.63,365.85 L195.16,365.54 L195.68,365.25 L196.20,364.99 L196.72,364.74 L197.24,364.53 L197.77,364.35 L198.29,364.20 L198.81,364.09 L199.33,364.02 L199.86,363.99 L200.38,364.00 L200.90,364.04 L201.42,364.12 L201.95,364.24 L202.47,364.39 L202.99,364.57 L203.51,364.78 L204.03,365.02 L204.56,365.27 L205.08,365.55 L205.60,365.83 L206.12,366.14 L206.65,366.45 L207.17,366.77 L207.69,367.09 L208.21,367.42 L208.73,367.74 L209.26,368.07 L209.78,368.39 L210.30,368.71 L210.82,369.03 L211.35,369.34 L211.87,369.64 L212.39,369.94 L212.91,370.23 L213.43,370.50 L213.96,370.77 L214.48,371.03 L215.00,371.27 L215.52,371.50 L216.05,371.72 L216.57,371.92 L217.09,372.10 L217.61,372.26 L218.14,372.41 L218.66,372.53 L219.18,372.63 L219.70,372.71 L220.22,372.76 L220.75,372.80 L221.27,372.81 L221.79,372.79 L222.31,372.76 L222.84,372.71 L223.36,372.64 L223.88,372.55 L224.40,372.45 L224.92,372.34 L225.45,372.23 L225.97,372.10 L226.49,371.98 L227.01,371.86 L227.54,371.75 L228.06,371.64 L228.58,371.55 L229.10,371.48 L229.63,371.42 L230.15,371.38 L230.67,371.37 L231.19,371.38 L231.71,371.42 L232.24,371.48 L232.76,371.57 L233.28,371.68 L233.80,371.82 L234.33,371.98 L234.85,372.17 L235.37,372.37 L235.89,372.58 L236.41,372.82 L236.94,373.06 L237.46,373.30 L237.98,373.56 L238.50,373.81 L239.03,374.06 L239.55,374.30 L240.07,374.54 L240.59,374.76 L241.11,374.97 L241.64,375.17 L242.16,375.34 L242.68,375.50 L243.20,375.64 L243.73,375.76 L244.25,375.86 L244.77,375.94 L245.29,375.99 L245.82,376.03 L246.34,376.05 L246.86,376.05 L247.38,376.03 L247.90,376.00 L248.43,375.95 L248.95,375.89 L249.47,375.82 L249.99,375.74 L250.52,375.66 L251.04,375.58 L251.56,375.49 L252.08,375.40 L252.60,375.31 L253.13,375.23 L253.65,375.15 L254.17,375.08 L254.69,375.02 L255.22,374.97 L255.74,374.93 L256.26,374.89 L256.78,374.87 L257.31,374.87 L257.83,374.87 L258.35,374.88 L258.87,374.91 L259.39,374.95 L259.92,374.99 L260.44,375.05 L260.96,375.11 L261.48,375.18 L262.01,375.26 L262.53,375.34 L263.05,375.43 L263.57,375.52 L264.09,375.61 L264.62,375.70 L265.14,375.79 L265.66,375.87 L266.18,375.96 L266.71,376.04 L267.23,376.11 L267.75,376.18 L268.27,376.25 L268.79,376.31 L269.32,376.36 L269.84,376.41 L270.36,376.45 L270.88,376.49 L271.41,376.52 L271.93,376.55 L272.45,376.57 L272.97,376.59 L273.50,376.60 L274.02,376.62 L274.54,376.63 L275.06,376.64 L275.58,376.65 L276.11,376.66 L276.63,376.67 L277.15,376.68 L277.67,376.70 L278.20,376.71 L278.72,376.73 L279.24,376.75 L279.76,376.77 L280.28,376.79 L280.81,376.82 L281.33,376.85 L281.85,376.88 L282.37,376.91 L282.90,376.94 L283.42,376.98 L283.94,377.01 L284.46,377.05 L284.99,377.09 L285.51,377.12 L286.03,377.16 L286.55,377.19 L287.07,377.23 L287.60,377.26 L288.12,377.29 L288.64,377.32 L289.16,377.35 L289.69,377.38 L290.21,377.40 L290.73,377.42 L291.25,377.44 L291.77,377.46 L292.30,377.48 L292.82,377.50 L293.34,377.51 L293.86,377.52 L294.39,377.53 L294.91,377.54 L295.43,377.55 L295.95,377.56 L296.47,377.56 L297.00,377.57 L297.52,377.57 L298.04,377.57 L298.56,377.58 L299.09,377.58 L299.61,377.58 L300.13,377.58 L300.65,377.58 L301.18,377.57 L301.70,377.57 L302.22,377.57 L302.74,377.56 L303.26,377.56 L303.79,377.55 L304.31,377.55 L304.83,377.54 L305.35,377.53 L305.88,377.52 L306.40,377.51 L306.92,377.50 L307.44,377.49 L307.96,377.48 L308.49,377.47 L309.01,377.46 L309.53,377.45 L310.05,377.43 L310.58,377.42 L311.10,377.41 L311.62,377.40 L312.14,377.38 L312.67,377.37 L313.19,377.36 L313.71,377.35 L314.23,377.34 L314.75,377.33 L315.28,377.32 L315.80,377.31 L316.32,377.31 L316.84,377.30 L317.37,377.30 L317.89,377.30 L318.41,377.30" fill="none" stroke="#8a3536" stroke-width="3.2" stroke-linejoin="round" stroke-linecap="butt"/>
<path d="M57.80,377.00 L58.32,376.95 L58.84,376.89 L59.37,376.83 L59.89,376.77 L60.41,376.70 L60.93,376.63 L61.46,376.56 L61.98,376.48 L62.50,376.40 L63.02,376.31 L63.54,376.22 L64.07,376.13 L64.59,376.03 L65.11,375.93 L65.63,375.83 L66.16,375.72 L66.68,375.61 L67.20,375.49 L67.72,375.38 L68.25,375.25 L68.77,375.13 L69.29,375.00 L69.81,374.86 L70.33,374.72 L70.86,374.58 L71.38,374.43 L71.90,374.28 L72.42,374.12 L72.95,373.96 L73.47,373.80 L73.99,373.62 L74.51,373.44 L75.03,373.26 L75.56,373.07 L76.08,372.87 L76.60,372.66 L77.12,372.44 L77.65,372.22 L78.17,371.98 L78.69,371.74 L79.21,371.48 L79.74,371.21 L80.26,370.93 L80.78,370.64 L81.30,370.33 L81.82,370.01 L82.35,369.67 L82.87,369.31 L83.39,368.95 L83.91,368.56 L84.44,368.16 L84.96,367.74 L85.48,367.30 L86.00,366.85 L86.52,366.37 L87.05,365.88 L87.57,365.37 L88.09,364.85 L88.61,364.31 L89.14,363.75 L89.66,363.17 L90.18,362.58 L90.70,361.97 L91.22,361.35 L91.75,360.72 L92.27,360.07 L92.79,359.42 L93.31,358.75 L93.84,358.08 L94.36,357.39 L94.88,356.70 L95.40,356.00 L95.93,355.30 L96.45,354.60 L96.97,353.90 L97.49,353.19 L98.01,352.49 L98.54,351.78 L99.06,351.09 L99.58,350.39 L100.10,349.70 L100.63,349.01 L101.15,348.33 L101.67,347.66 L102.19,347.00 L102.71,346.34 L103.24,345.70 L103.76,345.06 L104.28,344.43 L104.80,343.82 L105.33,343.21 L105.85,342.61 L106.37,342.02 L106.89,341.44 L107.42,340.87 L107.94,340.31 L108.46,339.76 L108.98,339.22 L109.50,338.69 L110.03,338.16 L110.55,337.65 L111.07,337.14 L111.59,336.64 L112.12,336.14 L112.64,335.66 L113.16,335.18 L113.68,334.70 L114.20,334.24 L114.73,333.77 L115.25,333.32 L115.77,332.87 L116.29,332.43 L116.82,331.99 L117.34,331.56 L117.86,331.13 L118.38,330.71 L118.90,330.30 L119.43,329.89 L119.95,329.49 L120.47,329.09 L120.99,328.70 L121.52,328.32 L122.04,327.95 L122.56,327.58 L123.08,327.22 L123.61,326.87 L124.13,326.52 L124.65,326.18 L125.17,325.85 L125.69,325.53 L126.22,325.21 L126.74,324.90 L127.26,324.60 L127.78,324.30 L128.31,324.01 L128.83,323.72 L129.35,323.45 L129.87,323.17 L130.39,322.91 L130.92,322.65 L131.44,322.39 L131.96,322.14 L132.48,321.90 L133.01,321.66 L133.53,321.42 L134.05,321.19 L134.57,320.96 L135.10,320.74 L135.62,320.53 L136.14,320.31 L136.66,320.11 L137.18,319.91 L137.71,319.71 L138.23,319.52 L138.75,319.34 L139.27,319.16 L139.80,318.99 L140.32,318.83 L140.84,318.68 L141.36,318.54 L141.88,318.41 L142.41,318.29 L142.93,318.19 L143.45,318.10 L143.97,318.02 L144.50,317.96 L145.02,317.91 L145.54,317.89 L146.06,317.88 L146.58,317.89 L147.11,317.92 L147.63,317.97 L148.15,318.04 L148.67,318.14 L149.20,318.26 L149.72,318.40 L150.24,318.57 L150.76,318.76 L151.29,318.97 L151.81,319.22 L152.33,319.48 L152.85,319.77 L153.37,320.09 L153.90,320.43 L154.42,320.79 L154.94,321.17 L155.46,321.58 L155.99,322.01 L156.51,322.46 L157.03,322.93 L157.55,323.41 L158.07,323.91 L158.60,324.43 L159.12,324.96 L159.64,325.50 L160.16,326.06 L160.69,326.62 L161.21,327.19 L161.73,327.76 L162.25,328.34 L162.78,328.92 L163.30,329.50 L163.82,330.08 L164.34,330.66 L164.86,331.23 L165.39,331.79 L165.91,332.35 L166.43,332.90 L166.95,333.44 L167.48,333.97 L168.00,334.49 L168.52,335.00 L169.04,335.49 L169.56,335.96 L170.09,336.43 L170.61,336.88 L171.13,337.31 L171.65,337.73 L172.18,338.13 L172.70,338.52 L173.22,338.89 L173.74,339.25 L174.26,339.60 L174.79,339.93 L175.31,340.26 L175.83,340.57 L176.35,340.87 L176.88,341.17 L177.40,341.45 L177.92,341.73 L178.44,342.00 L178.97,342.27 L179.49,342.54 L180.01,342.80 L180.53,343.07 L181.05,343.33 L181.58,343.59 L182.10,343.86 L182.62,344.13 L183.14,344.40 L183.67,344.68 L184.19,344.97 L184.71,345.26 L185.23,345.55 L185.75,345.86 L186.28,346.17 L186.80,346.49 L187.32,346.81 L187.84,347.15 L188.37,347.49 L188.89,347.83 L189.41,348.18 L189.93,348.54 L190.46,348.91 L190.98,349.27 L191.50,349.64 L192.02,350.02 L192.54,350.39 L193.07,350.77 L193.59,351.14 L194.11,351.52 L194.63,351.89 L195.16,352.25 L195.68,352.61 L196.20,352.97 L196.72,353.32 L197.24,353.65 L197.77,353.98 L198.29,354.30 L198.81,354.61 L199.33,354.90 L199.86,355.18 L200.38,355.45 L200.90,355.70 L201.42,355.93 L201.95,356.15 L202.47,356.36 L202.99,356.54 L203.51,356.71 L204.03,356.85 L204.56,356.99 L205.08,357.10 L205.60,357.19 L206.12,357.27 L206.65,357.33 L207.17,357.37 L207.69,357.40 L208.21,357.40 L208.73,357.40 L209.26,357.37 L209.78,357.33 L210.30,357.28 L210.82,357.21 L211.35,357.13 L211.87,357.04 L212.39,356.94 L212.91,356.83 L213.43,356.71 L213.96,356.57 L214.48,356.43 L215.00,356.29 L215.52,356.14 L216.05,355.98 L216.57,355.82 L217.09,355.65 L217.61,355.48 L218.14,355.31 L218.66,355.14 L219.18,354.97 L219.70,354.79 L220.22,354.62 L220.75,354.45 L221.27,354.29 L221.79,354.12 L222.31,353.96 L222.84,353.80 L223.36,353.65 L223.88,353.50 L224.40,353.36 L224.92,353.23 L225.45,353.10 L225.97,352.98 L226.49,352.86 L227.01,352.76 L227.54,352.66 L228.06,352.57 L228.58,352.49 L229.10,352.42 L229.63,352.36 L230.15,352.30 L230.67,352.26 L231.19,352.23 L231.71,352.21 L232.24,352.20 L232.76,352.20 L233.28,352.21 L233.80,352.23 L234.33,352.27 L234.85,352.31 L235.37,352.36 L235.89,352.43 L236.41,352.51 L236.94,352.60 L237.46,352.69 L237.98,352.80 L238.50,352.92 L239.03,353.05 L239.55,353.19 L240.07,353.34 L240.59,353.50 L241.11,353.67 L241.64,353.85 L242.16,354.03 L242.68,354.22 L243.20,354.42 L243.73,354.63 L244.25,354.84 L244.77,355.06 L245.29,355.29 L245.82,355.52 L246.34,355.75 L246.86,355.99 L247.38,356.23 L247.90,356.48 L248.43,356.72 L248.95,356.97 L249.47,357.22 L249.99,357.47 L250.52,357.72 L251.04,357.97 L251.56,358.22 L252.08,358.47 L252.60,358.72 L253.13,358.97 L253.65,359.21 L254.17,359.45 L254.69,359.69 L255.22,359.93 L255.74,360.16 L256.26,360.39 L256.78,360.62 L257.31,360.84 L257.83,361.07 L258.35,361.28 L258.87,361.50 L259.39,361.71 L259.92,361.93 L260.44,362.13 L260.96,362.34 L261.48,362.55 L262.01,362.75 L262.53,362.95 L263.05,363.15 L263.57,363.35 L264.09,363.55 L264.62,363.75 L265.14,363.95 L265.66,364.16 L266.18,364.36 L266.71,364.56 L267.23,364.77 L267.75,364.97 L268.27,365.18 L268.79,365.39 L269.32,365.61 L269.84,365.82 L270.36,366.04 L270.88,366.26 L271.41,366.49 L271.93,366.71 L272.45,366.94 L272.97,367.18 L273.50,367.41 L274.02,367.65 L274.54,367.88 L275.06,368.12 L275.58,368.37 L276.11,368.61 L276.63,368.85 L277.15,369.09 L277.67,369.34 L278.20,369.58 L278.72,369.82 L279.24,370.06 L279.76,370.30 L280.28,370.54 L280.81,370.77 L281.33,371.00 L281.85,371.23 L282.37,371.45 L282.90,371.67 L283.42,371.89 L283.94,372.09 L284.46,372.30 L284.99,372.49 L285.51,372.68 L286.03,372.87 L286.55,373.04 L287.07,373.21 L287.60,373.38 L288.12,373.53 L288.64,373.68 L289.16,373.82 L289.69,373.96 L290.21,374.08 L290.73,374.20 L291.25,374.31 L291.77,374.42 L292.30,374.52 L292.82,374.61 L293.34,374.70 L293.86,374.77 L294.39,374.85 L294.91,374.92 L295.43,374.98 L295.95,375.04 L296.47,375.09 L297.00,375.14 L297.52,375.19 L298.04,375.23 L298.56,375.28 L299.09,375.31 L299.61,375.35 L300.13,375.38 L300.65,375.42 L301.18,375.45 L301.70,375.48 L302.22,375.51 L302.74,375.54 L303.26,375.57 L303.79,375.59 L304.31,375.62 L304.83,375.65 L305.35,375.69 L305.88,375.72 L306.40,375.75 L306.92,375.78 L307.44,375.82 L307.96,375.85 L308.49,375.89 L309.01,375.93 L309.53,375.97 L310.05,376.01 L310.58,376.05 L311.10,376.09 L311.62,376.14 L312.14,376.18 L312.67,376.22 L313.19,376.27 L313.71,376.32 L314.23,376.36 L314.75,376.41 L315.28,376.45 L315.80,376.50 L316.32,376.55 L316.84,376.59 L317.37,376.64 L317.89,376.68 L318.41,376.73" fill="none" stroke="#1aafa7" stroke-width="3.2" stroke-linejoin="round" stroke-linecap="butt"/>
<text x="260.8" y="42.1" font-size="10.2" font-family="Liberation Sans, sans-serif" fill="#151515" textLength="43" lengthAdjust="spacingAndGlyphs">Diet type</text>
<line x1="261" y1="55.10" x2="272.7" y2="55.10" stroke="#8a3536" stroke-width="2"/>
<text x="278.5" y="58.10" font-size="10.2" font-family="Liberation Sans, sans-serif" fill="#111" textLength="47.4" lengthAdjust="spacingAndGlyphs">Carnivore</text>
<line x1="261" y1="68.95" x2="272.7" y2="68.95" stroke="#1aafa7" stroke-width="2"/>
<text x="278.5" y="71.95" font-size="10.2" font-family="Liberation Sans, sans-serif" fill="#111" textLength="47.4" lengthAdjust="spacingAndGlyphs">Herbivore</text>
<line x1="261" y1="82.80" x2="272.7" y2="82.80" stroke="#ef7700" stroke-width="2"/>
<text x="278.5" y="85.80" font-size="10.2" font-family="Liberation Sans, sans-serif" fill="#111" textLength="47" lengthAdjust="spacingAndGlyphs">Omnivore</text>
<rect x="398.3" y="7.4" width="286.2" height="18.700000000000003" fill="#d9d9d9" stroke="#7a7a7a" stroke-width="1.0"/>
<text x="541.4" y="20.00" text-anchor="middle" font-size="10.4" font-family="Liberation Sans, sans-serif" fill="#151515" textLength="47.6" lengthAdjust="spacingAndGlyphs">Carnivore</text>
<rect x="398.3" y="198.7" width="286.2" height="18.200000000000017" fill="#d9d9d9" stroke="#7a7a7a" stroke-width="1.0"/>
<text x="541.4" y="211.30" text-anchor="middle" font-size="10.4" font-family="Liberation Sans, sans-serif" fill="#151515" textLength="47.6" lengthAdjust="spacingAndGlyphs">Herbivore</text>
<line x1="398.3" y1="26.1" x2="398.3" y2="193.5" stroke="#606060" stroke-width="1.1"/>
<line x1="398.3" y1="216.9" x2="398.3" y2="385" stroke="#606060" stroke-width="1.1"/>
<line x1="397.8" y1="384.8" x2="685" y2="384.8" stroke="#aaaaaa" stroke-width="1.1"/>
<line x1="394.8" y1="150.80" x2="398.3" y2="150.80" stroke="#3a3a3a" stroke-width="0.9"/>
<text x="389.3" y="154.30" text-anchor="end" font-size="9.9" font-family="Liberation Sans, sans-serif" fill="#222">0.4</text>
<line x1="394.8" y1="341.30" x2="398.3" y2="341.30" stroke="#3a3a3a" stroke-width="0.9"/>
<text x="389.3" y="344.80" text-anchor="end" font-size="9.9" font-family="Liberation Sans, sans-serif" fill="#222">0.4</text>
<line x1="394.8" y1="102.60" x2="398.3" y2="102.60" stroke="#3a3a3a" stroke-width="0.9"/>
<text x="389.3" y="106.10" text-anchor="end" font-size="9.9" font-family="Liberation Sans, sans-serif" fill="#222">0.6</text>
<line x1="394.8" y1="293.10" x2="398.3" y2="293.10" stroke="#3a3a3a" stroke-width="0.9"/>
<text x="389.3" y="296.60" text-anchor="end" font-size="9.9" font-family="Liberation Sans, sans-serif" fill="#222">0.6</text>
<line x1="394.8" y1="54.40" x2="398.3" y2="54.40" stroke="#3a3a3a" stroke-width="0.9"/>
<text x="389.3" y="57.90" text-anchor="end" font-size="9.9" font-family="Liberation Sans, sans-serif" fill="#222">0.8</text>
<line x1="394.8" y1="244.90" x2="398.3" y2="244.90" stroke="#3a3a3a" stroke-width="0.9"/>
<text x="389.3" y="248.40" text-anchor="end" font-size="9.9" font-family="Liberation Sans, sans-serif" fill="#222">0.8</text>
<line x1="411.50" y1="384.6" x2="411.50" y2="388" stroke="#555" stroke-width="1"/>
<text x="411.70" y="402.3" text-anchor="middle" font-family="Liberation Sans, sans-serif" fill="#222"><tspan font-size="9">10</tspan><tspan font-size="6" dy="-4">0</tspan></text>
<line x1="448.70" y1="384.6" x2="448.70" y2="388" stroke="#555" stroke-width="1"/>
<text x="448.90" y="402.3" text-anchor="middle" font-family="Liberation Sans, sans-serif" fill="#222"><tspan font-size="9">10</tspan><tspan font-size="6" dy="-4">1</tspan></text>
<line x1="485.90" y1="384.6" x2="485.90" y2="388" stroke="#555" stroke-width="1"/>
<text x="486.10" y="402.3" text-anchor="middle" font-family="Liberation Sans, sans-serif" fill="#222"><tspan font-size="9">10</tspan><tspan font-size="6" dy="-4">2</tspan></text>
<line x1="523.10" y1="384.6" x2="523.10" y2="388" stroke="#555" stroke-width="1"/>
<text x="523.30" y="402.3" text-anchor="middle" font-family="Liberation Sans, sans-serif" fill="#222"><tspan font-size="9">10</tspan><tspan font-size="6" dy="-4">3</tspan></text>
<line x1="560.30" y1="384.6" x2="560.30" y2="388" stroke="#555" stroke-width="1"/>
<text x="560.50" y="402.3" text-anchor="middle" font-family="Liberation Sans, sans-serif" fill="#222"><tspan font-size="9">10</tspan><tspan font-size="6" dy="-4">4</tspan></text>
<line x1="597.50" y1="384.6" x2="597.50" y2="388" stroke="#555" stroke-width="1"/>
<text x="597.70" y="402.3" text-anchor="middle" font-family="Liberation Sans, sans-serif" fill="#222"><tspan font-size="9">10</tspan><tspan font-size="6" dy="-4">5</tspan></text>
<line x1="634.70" y1="384.6" x2="634.70" y2="388" stroke="#555" stroke-width="1"/>
<text x="634.90" y="402.3" text-anchor="middle" font-family="Liberation Sans, sans-serif" fill="#222"><tspan font-size="9">10</tspan><tspan font-size="6" dy="-4">6</tspan></text>
<line x1="671.90" y1="384.6" x2="671.90" y2="388" stroke="#555" stroke-width="1"/>
<text x="672.10" y="402.3" text-anchor="middle" font-family="Liberation Sans, sans-serif" fill="#222"><tspan font-size="9">10</tspan><tspan font-size="6" dy="-4">7</tspan></text>
<text x="541.8" y="419.5" text-anchor="middle" font-size="10.5" font-family="Liberation Sans, sans-serif" fill="#151515" textLength="101" lengthAdjust="spacingAndGlyphs">Body size (mass in g)</text>
<text transform="translate(372.0,205.3) rotate(-90)" text-anchor="middle" font-size="10" font-family="Liberation Sans, sans-serif" fill="#2a2a2a" style="stroke-width:0.05px" textLength="73.5" lengthAdjust="spacingAndGlyphs">Prop. specialists</text>
<line x1="425.6" y1="103.6" x2="630.8" y2="103.6" stroke="#c4c4c4" stroke-width="1" stroke-dasharray="3.3,3.4"/>
<line x1="453.8" y1="315.6" x2="645.6" y2="315.6" stroke="#c4c4c4" stroke-width="1" stroke-dasharray="3.3,3.4"/>
<line x1="425.7" y1="64.5" x2="425.7" y2="109.7" stroke="#5e5e5e" stroke-width="1"/>
<line x1="423.80" y1="64.5" x2="427.60" y2="64.5" stroke="#5e5e5e" stroke-width="1"/>
<line x1="423.80" y1="109.7" x2="427.60" y2="109.7" stroke="#5e5e5e" stroke-width="1"/>
<line x1="439.5" y1="67.7" x2="439.5" y2="114.4" stroke="#5e5e5e" stroke-width="1"/>
<line x1="437.60" y1="67.7" x2="441.40" y2="67.7" stroke="#5e5e5e" stroke-width="1"/>
<line x1="437.60" y1="114.4" x2="441.40" y2="114.4" stroke="#5e5e5e" stroke-width="1"/>
<line x1="444.1" y1="68.8" x2="444.1" y2="115.7" stroke="#5e5e5e" stroke-width="1"/>
<line x1="442.20" y1="68.8" x2="446.00" y2="68.8" stroke="#5e5e5e" stroke-width="1"/>
<line x1="442.20" y1="115.7" x2="446.00" y2="115.7" stroke="#5e5e5e" stroke-width="1"/>
<line x1="448.1" y1="58.5" x2="448.1" y2="102.5" stroke="#5e5e5e" stroke-width="1"/>
<line x1="446.20" y1="58.5" x2="450.00" y2="58.5" stroke="#5e5e5e" stroke-width="1"/>
<line x1="446.20" y1="102.5" x2="450.00" y2="102.5" stroke="#5e5e5e" stroke-width="1"/>
<line x1="452.3" y1="85.8" x2="452.3" y2="133.2" stroke="#5e5e5e" stroke-width="1"/>
<line x1="450.40" y1="85.8" x2="454.20" y2="85.8" stroke="#5e5e5e" stroke-width="1"/>
<line x1="450.40" y1="133.2" x2="454.20" y2="133.2" stroke="#5e5e5e" stroke-width="1"/>
<line x1="458.7" y1="84.1" x2="458.7" y2="133.2" stroke="#5e5e5e" stroke-width="1"/>
<line x1="456.80" y1="84.1" x2="460.60" y2="84.1" stroke="#5e5e5e" stroke-width="1"/>
<line x1="456.80" y1="133.2" x2="460.60" y2="133.2" stroke="#5e5e5e" stroke-width="1"/>
<line x1="466.8" y1="63.4" x2="466.8" y2="109.1" stroke="#5e5e5e" stroke-width="1"/>
<line x1="464.90" y1="63.4" x2="468.70" y2="63.4" stroke="#5e5e5e" stroke-width="1"/>
<line x1="464.90" y1="109.1" x2="468.70" y2="109.1" stroke="#5e5e5e" stroke-width="1"/>
<line x1="482.8" y1="63.4" x2="482.8" y2="109.1" stroke="#5e5e5e" stroke-width="1"/>
<line x1="480.90" y1="63.4" x2="484.70" y2="63.4" stroke="#5e5e5e" stroke-width="1"/>
<line x1="480.90" y1="109.1" x2="484.70" y2="109.1" stroke="#5e5e5e" stroke-width="1"/>
<line x1="530.1" y1="126.7" x2="530.1" y2="174" stroke="#5e5e5e" stroke-width="1"/>
<line x1="528.20" y1="126.7" x2="532.00" y2="126.7" stroke="#5e5e5e" stroke-width="1"/>
<line x1="528.20" y1="174" x2="532.00" y2="174" stroke="#5e5e5e" stroke-width="1"/>
<line x1="630.8" y1="119" x2="630.8" y2="167.5" stroke="#5e5e5e" stroke-width="1"/>
<line x1="628.90" y1="119" x2="632.70" y2="119" stroke="#5e5e5e" stroke-width="1"/>
<line x1="628.90" y1="167.5" x2="632.70" y2="167.5" stroke="#5e5e5e" stroke-width="1"/>
<path d="M425.7,86.9 L439.5,91.3 L444.1,92.4 L448.1,80.9 L452.3,109.7 L458.7,109.1 L466.8,86.3 L482.8,86.1 L530.1,150.7 L630.8,143.1" fill="none" stroke="#1a1a1a" stroke-width="1.05"/>
<circle cx="425.7" cy="86.9" r="2.7" fill="#fff" stroke="#1a1a1a" stroke-width="0.9"/>
<circle cx="439.5" cy="91.3" r="2.7" fill="#fff" stroke="#1a1a1a" stroke-width="0.9"/>
<circle cx="444.1" cy="92.4" r="2.7" fill="#fff" stroke="#1a1a1a" stroke-width="0.9"/>
<circle cx="448.1" cy="80.9" r="3.05" fill="#000"/>
<circle cx="452.3" cy="109.7" r="2.7" fill="#fff" stroke="#1a1a1a" stroke-width="0.9"/>
<circle cx="458.7" cy="109.1" r="2.7" fill="#fff" stroke="#1a1a1a" stroke-width="0.9"/>
<circle cx="466.8" cy="86.3" r="2.7" fill="#fff" stroke="#1a1a1a" stroke-width="0.9"/>
<circle cx="482.8" cy="86.1" r="2.7" fill="#fff" stroke="#1a1a1a" stroke-width="0.9"/>
<circle cx="530.1" cy="150.7" r="3.05" fill="#000"/>
<circle cx="630.8" cy="143.1" r="3.05" fill="#000"/>
<line x1="453.6" y1="277.8" x2="453.6" y2="322.2" stroke="#5e5e5e" stroke-width="1"/>
<line x1="451.70" y1="277.8" x2="455.50" y2="277.8" stroke="#5e5e5e" stroke-width="1"/>
<line x1="451.70" y1="322.2" x2="455.50" y2="322.2" stroke="#5e5e5e" stroke-width="1"/>
<line x1="471.1" y1="322.2" x2="471.1" y2="365.2" stroke="#5e5e5e" stroke-width="1"/>
<line x1="469.20" y1="322.2" x2="473.00" y2="322.2" stroke="#5e5e5e" stroke-width="1"/>
<line x1="469.20" y1="365.2" x2="473.00" y2="365.2" stroke="#5e5e5e" stroke-width="1"/>
<line x1="481" y1="333.9" x2="481" y2="377" stroke="#5e5e5e" stroke-width="1"/>
<line x1="479.10" y1="333.9" x2="482.90" y2="333.9" stroke="#5e5e5e" stroke-width="1"/>
<line x1="479.10" y1="377" x2="482.90" y2="377" stroke="#5e5e5e" stroke-width="1"/>
<line x1="491.1" y1="302.6" x2="491.1" y2="347.5" stroke="#5e5e5e" stroke-width="1"/>
<line x1="489.20" y1="302.6" x2="493.00" y2="302.6" stroke="#5e5e5e" stroke-width="1"/>
<line x1="489.20" y1="347.5" x2="493.00" y2="347.5" stroke="#5e5e5e" stroke-width="1"/>
<line x1="499.3" y1="303.4" x2="499.3" y2="348.3" stroke="#5e5e5e" stroke-width="1"/>
<line x1="497.40" y1="303.4" x2="501.20" y2="303.4" stroke="#5e5e5e" stroke-width="1"/>
<line x1="497.40" y1="348.3" x2="501.20" y2="348.3" stroke="#5e5e5e" stroke-width="1"/>
<line x1="510.7" y1="271.6" x2="510.7" y2="315.3" stroke="#5e5e5e" stroke-width="1"/>
<line x1="508.80" y1="271.6" x2="512.60" y2="271.6" stroke="#5e5e5e" stroke-width="1"/>
<line x1="508.80" y1="315.3" x2="512.60" y2="315.3" stroke="#5e5e5e" stroke-width="1"/>
<line x1="530.4" y1="260.2" x2="530.4" y2="303.6" stroke="#5e5e5e" stroke-width="1"/>
<line x1="528.50" y1="260.2" x2="532.30" y2="260.2" stroke="#5e5e5e" stroke-width="1"/>
<line x1="528.50" y1="303.6" x2="532.30" y2="303.6" stroke="#5e5e5e" stroke-width="1"/>
<line x1="549.1" y1="329.4" x2="549.1" y2="372.4" stroke="#5e5e5e" stroke-width="1"/>
<line x1="547.20" y1="329.4" x2="551.00" y2="329.4" stroke="#5e5e5e" stroke-width="1"/>
<line x1="547.20" y1="372.4" x2="551.00" y2="372.4" stroke="#5e5e5e" stroke-width="1"/>
<line x1="574.3" y1="315.3" x2="574.3" y2="359.8" stroke="#5e5e5e" stroke-width="1"/>
<line x1="572.40" y1="315.3" x2="576.20" y2="315.3" stroke="#5e5e5e" stroke-width="1"/>
<line x1="572.40" y1="359.8" x2="576.20" y2="359.8" stroke="#5e5e5e" stroke-width="1"/>
<line x1="645.6" y1="224.2" x2="645.6" y2="259.4" stroke="#5e5e5e" stroke-width="1"/>
<line x1="643.70" y1="224.2" x2="647.50" y2="224.2" stroke="#5e5e5e" stroke-width="1"/>
<line x1="643.70" y1="259.4" x2="647.50" y2="259.4" stroke="#5e5e5e" stroke-width="1"/>
<path d="M453.6,300 L471.1,343.8 L481,355.6 L491.1,324.8 L499.3,325.7 L510.7,293.6 L530.4,282.3 L549.1,350.7 L574.3,337.6 L645.6,242" fill="none" stroke="#1a1a1a" stroke-width="1.05"/>
<circle cx="453.6" cy="300" r="2.7" fill="#fff" stroke="#1a1a1a" stroke-width="0.9"/>
<circle cx="471.1" cy="343.8" r="3.05" fill="#000"/>
<circle cx="481" cy="355.6" r="3.05" fill="#000"/>
<circle cx="491.1" cy="324.8" r="2.7" fill="#fff" stroke="#1a1a1a" stroke-width="0.9"/>
<circle cx="499.3" cy="325.7" r="2.7" fill="#fff" stroke="#1a1a1a" stroke-width="0.9"/>
<circle cx="510.7" cy="293.6" r="3.05" fill="#000"/>
<circle cx="530.4" cy="282.3" r="3.05" fill="#000"/>
<circle cx="549.1" cy="350.7" r="3.05" fill="#000"/>
<circle cx="574.3" cy="337.6" r="3.05" fill="#000"/>
<circle cx="645.6" cy="242" r="3.05" fill="#000"/>
<text x="515.2" y="42.1" font-size="10.3" font-family="Liberation Sans, sans-serif" fill="#151515" textLength="165.5" lengthAdjust="spacingAndGlyphs">Difference from global proportion</text>
<circle cx="518.6" cy="54.9" r="2.7" fill="#fff" stroke="#1a1a1a" stroke-width="0.9"/>
<circle cx="518.6" cy="68.8" r="3.05" fill="#000"/>
<text x="531" y="57.9" font-size="10.3" font-family="Liberation Sans, sans-serif" fill="#151515" textLength="73.3" lengthAdjust="spacingAndGlyphs">Non-significant</text>
<text x="531" y="72" font-size="10.3" font-family="Liberation Sans, sans-serif" fill="#151515" textLength="51.5" lengthAdjust="spacingAndGlyphs">Significant</text></svg></body></html>
